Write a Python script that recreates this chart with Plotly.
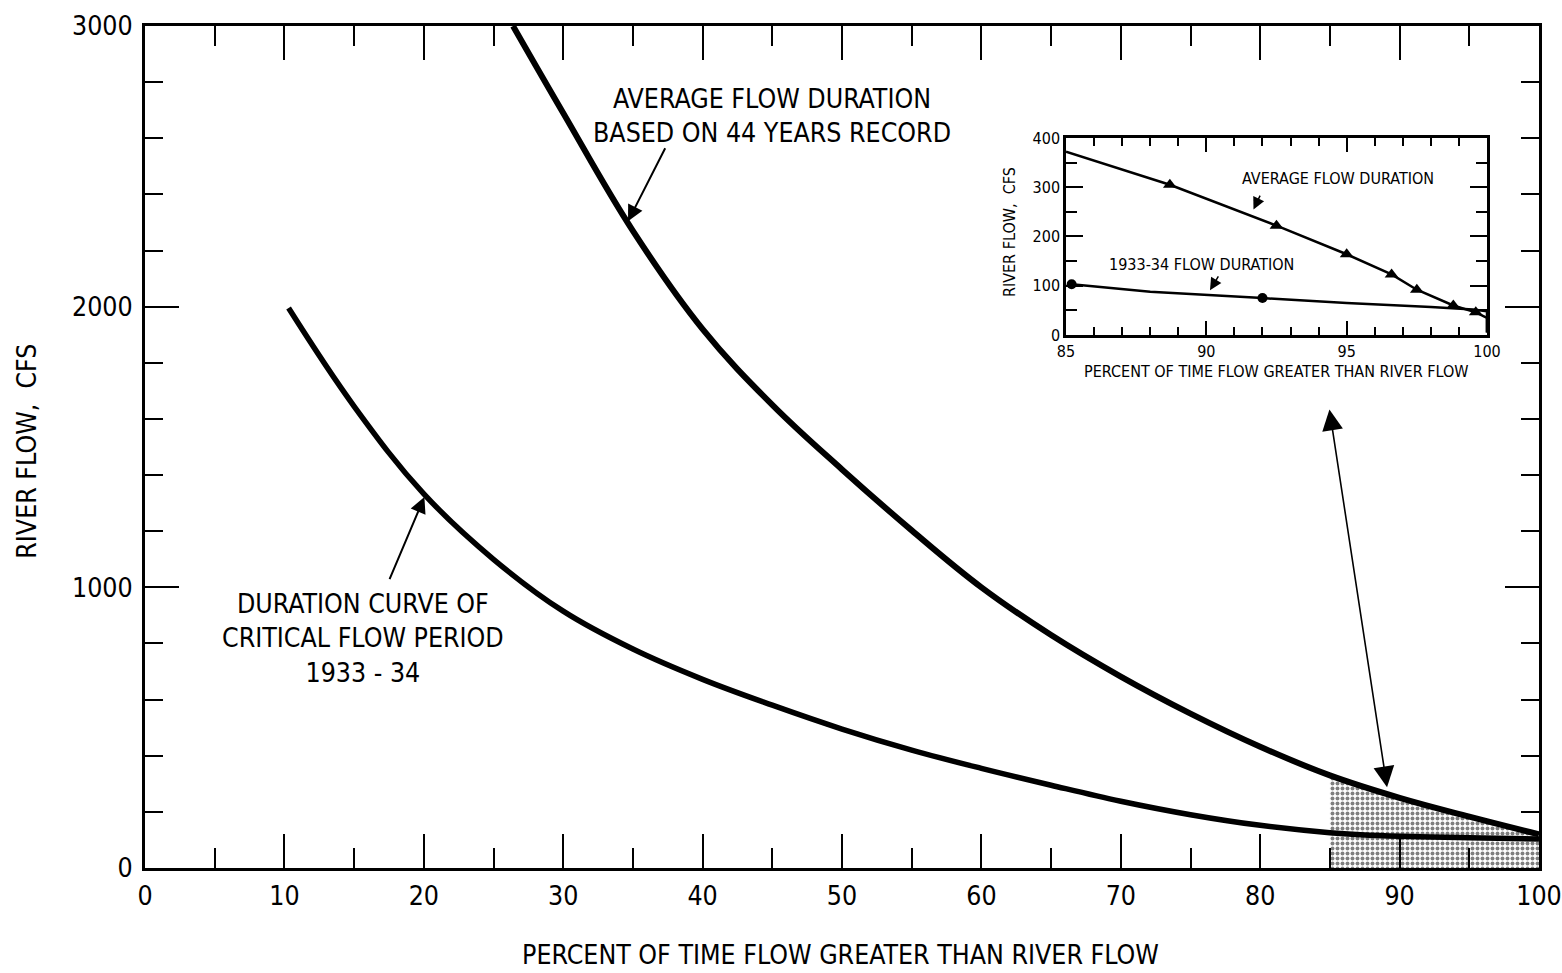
import plotly.graph_objects as go

# ---- main chart data (percent of time vs river flow, cfs) ----
avg_x = [26.4, 30.0, 35.0, 40.0, 45.0, 50.0, 55.0, 60.0, 65.0, 70.0, 75.0, 80.0, 85.0, 90.0, 95.0, 100.0]
avg_y = [3000, 2690, 2270, 1920, 1650, 1420, 1203, 1000, 830, 682, 550, 432, 330, 250, 183, 120]

crit_x = [10.3, 15.0, 20.0, 25.0, 30.0, 35.0, 40.0, 45.0, 50.0, 55.0, 60.0, 65.0, 70.0, 75.0, 80.0, 85.0, 90.0, 95.0, 100.0]
crit_y = [1995, 1645, 1333, 1100, 915, 780, 672, 580, 495, 420, 355, 295, 238, 190, 152, 126, 113, 108, 103]

shade_start = 85.0

# ---- inset data ----
in_avg_x = [85.0, 88.7, 92.5, 95.0, 96.6, 97.5, 98.8, 99.6, 100.0, 100.0]
in_avg_y = [372, 305, 222, 164, 123, 92, 60, 46, 35, 5]
in_avg_mark_x = [88.7, 92.5, 95.0, 96.6, 97.5, 98.8, 99.6]
in_avg_mark_y = [305, 222, 164, 123, 92, 60, 46]

in_crit_x = [85.2, 88.0, 92.0, 95.0, 98.0, 99.5, 100.0, 100.0]
in_crit_y = [103, 88, 75, 65, 57, 52, 48, 5]
in_crit_mark_x = [85.2, 92.0]
in_crit_mark_y = [103, 75]

FONT = "DejaVu Sans Condensed, Liberation Sans Narrow, sans-serif"
MAIN = 26.5
SMALL = 16

fig = go.Figure()

shade_x = [x for x in avg_x if x >= shade_start]
shade_y = [y for x, y in zip(avg_x, avg_y) if x >= shade_start]
fig.add_trace(go.Scatter(
    x=shade_x, y=shade_y, mode="lines", fill="tozeroy",
    line=dict(width=0, shape="spline", smoothing=1.1, color="black"),
    fillcolor="white",
    fillpattern=dict(shape=".", fgcolor="black", bgcolor="white", size=5, solidity=0.5),
    hoverinfo="skip", showlegend=False))

fig.add_trace(go.Scatter(x=avg_x, y=avg_y, mode="lines",
                         line=dict(color="black", width=6, shape="spline", smoothing=1.1), showlegend=False))
fig.add_trace(go.Scatter(x=crit_x, y=crit_y, mode="lines",
                         line=dict(color="black", width=5.5, shape="spline", smoothing=1.1), showlegend=False))

# inset
fig.add_trace(go.Scatter(x=in_avg_x, y=in_avg_y, mode="lines", xaxis="x2", yaxis="y2",
                         line=dict(color="black", width=2.5), showlegend=False))
fig.add_trace(go.Scatter(x=in_avg_mark_x, y=in_avg_mark_y, mode="markers", xaxis="x2", yaxis="y2",
                         marker=dict(symbol="triangle-up", size=12, color="black"), showlegend=False))
fig.add_trace(go.Scatter(x=in_crit_x, y=in_crit_y, mode="lines", xaxis="x2", yaxis="y2",
                         line=dict(color="black", width=2.5), showlegend=False))
fig.add_trace(go.Scatter(x=in_crit_mark_x, y=in_crit_mark_y, mode="markers", xaxis="x2", yaxis="y2",
                         marker=dict(symbol="circle", size=10, color="black"), showlegend=False))

axis_common = dict(showline=True, linecolor="black", showgrid=False, zeroline=False,
                   ticks="inside", mirror="ticks", tickcolor="black", automargin=False)

fig.update_layout(
    width=1562, height=973,
    margin=dict(l=145, r=23, t=26, b=105),
    paper_bgcolor="white", plot_bgcolor="white",
    font=dict(family=FONT, color="black", size=MAIN),
    xaxis=dict(range=[0, 100], tickmode="linear", tick0=0, dtick=10, ticklen=34, tickwidth=2,
               linewidth=3, tickfont=dict(size=MAIN, family=FONT),
               minor=dict(ticks="inside", ticklen=20, tickwidth=2, dtick=5, tick0=0, showgrid=False),
               ticklabelstandoff=2, **axis_common),
    yaxis=dict(range=[0, 3000], tickmode="linear", tick0=0, dtick=1000, ticklen=34, tickwidth=2,
               linewidth=3, tickfont=dict(size=MAIN, family=FONT),
               minor=dict(ticks="inside", ticklen=18, tickwidth=2, dtick=200, tick0=0, showgrid=False),
               ticklabelstandoff=4, **axis_common),
    xaxis2=dict(domain=[0.6607, 0.9627], anchor="y2", range=[85, 100], tickmode="linear", tick0=85, dtick=5,
                ticklen=14, tickwidth=1.5, linewidth=2.5, tickfont=dict(size=SMALL, family=FONT),
                minor=dict(ticks="inside", ticklen=8, tickwidth=1.5, dtick=1, tick0=85, showgrid=False),
                **axis_common),
    yaxis2=dict(domain=[0.633, 0.867], anchor="x2", range=[0, 400], tickmode="linear", tick0=0, dtick=100,
                ticklen=17, tickwidth=1.5, linewidth=2.5, tickfont=dict(size=SMALL, family=FONT),
                minor=dict(ticks="inside", ticklen=11, tickwidth=1.5, dtick=50, tick0=0, showgrid=False),
                **axis_common),
)

ann = []
# axis titles
ann.append(dict(text="PERCENT OF TIME FLOW GREATER THAN RIVER FLOW", xref="paper", yref="paper",
                x=0.499, y=-0.103, showarrow=False, font=dict(size=MAIN, family=FONT),
                xanchor="center", yanchor="middle"))
ann.append(dict(text="RIVER FLOW,  CFS", xref="paper", yref="paper", x=-0.085, y=0.495,
                textangle=-90, showarrow=False, font=dict(size=MAIN, family=FONT),
                xanchor="center", yanchor="middle"))
# main labels
ann.append(dict(text="AVERAGE FLOW DURATION<br>BASED ON 44 YEARS RECORD", x=45.0, y=2680,
                showarrow=False, font=dict(size=MAIN, family=FONT), xanchor="center", yanchor="middle"))
ann.append(dict(text="", x=34.65, y=2304, ax=37.37, ay=2570, axref="x", ayref="y",
                showarrow=True, arrowhead=2, arrowsize=1.6, arrowwidth=2, arrowcolor="black", standoff=0))
ann.append(dict(text="DURATION CURVE OF<br>CRITICAL FLOW PERIOD<br>1933 - 34", x=15.65, y=818,
                showarrow=False, font=dict(size=MAIN, family=FONT), xanchor="center", yanchor="middle"))
ann.append(dict(text="", x=20.04, y=1322, ax=17.5, ay=1024, axref="x", ayref="y",
                showarrow=True, arrowhead=2, arrowsize=1.6, arrowwidth=2, arrowcolor="black", standoff=0))
# double arrow linking shaded region to inset
ann.append(dict(text="", x=89.1, y=288, ax=84.95, ay=1639, axref="x", ayref="y",
                showarrow=True, arrowside="end+start", arrowhead=2, arrowsize=2.6, startarrowhead=2,
                startarrowsize=2.6, arrowwidth=1.6, arrowcolor="black", standoff=0, startstandoff=0))
# inset labels
ann.append(dict(text="AVERAGE FLOW DURATION", x=94.69, y=317, xref="x2", yref="y2",
                showarrow=False, font=dict(size=SMALL, family=FONT)))
ann.append(dict(text="", x=91.68, y=255, ax=91.94, ay=286, xref="x2", yref="y2", axref="x2", ayref="y2",
                showarrow=True, arrowhead=2, arrowsize=1.6, arrowwidth=1.5, arrowcolor="black", standoff=0))
ann.append(dict(text="1933-34 FLOW DURATION", x=89.83, y=144, xref="x2", yref="y2",
                showarrow=False, font=dict(size=SMALL, family=FONT)))
ann.append(dict(text="", x=90.13, y=91, ax=90.46, ay=122, xref="x2", yref="y2", axref="x2", ayref="y2",
                showarrow=True, arrowhead=2, arrowsize=1.6, arrowwidth=1.5, arrowcolor="black", standoff=0))
ann.append(dict(text="RIVER FLOW,  CFS", xref="x2 domain", yref="y2 domain", x=-0.1615, y=0.52,
                textangle=-90, showarrow=False, font=dict(size=SMALL, family=FONT)))
ann.append(dict(text="PERCENT OF TIME FLOW GREATER THAN RIVER FLOW", xref="x2 domain", yref="y2 domain",
                x=0.501, y=-0.244, showarrow=False, font=dict(size=SMALL, family=FONT)))

fig.update_layout(annotations=ann)
fig.write_html("out.html", config={"displayModeBar": False},
               post_script="document.body.style.margin='0';")
